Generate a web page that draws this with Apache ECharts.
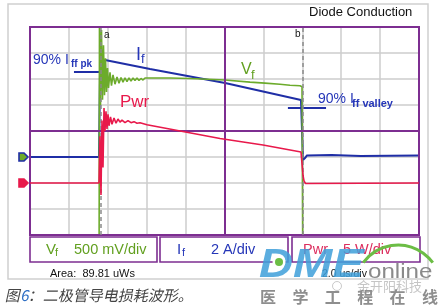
<!DOCTYPE html>
<html><head><meta charset="utf-8">
<script src="https://cdn.jsdelivr.net/npm/echarts@6/dist/echarts.min.js"></script>
<style>html,body{margin:0;padding:0;background:#fff}#c{width:438px;height:306px}</style>
</head><body><div id="c"></div>
<script>
// ---- data (time in microseconds, 2 us/div) ----
const ifTime = [0, 3.548, 3.6, 3.65, 3.856, 6.17, 10.03, 13.933, 13.985, 14.036, 14.139, 14.24, 15.5, 17.0, 20.0];
const ifAmps = [0, 0, 6.54, 6.6, 7.46, 6.77, 5.69, 4.38, 4.23, -0.23, -0.08, 0.12, 0.15, 0.08, 0.12];

const vfTime = [0, 3.548, 3.573, 3.625, 3.676, 3.728, 3.779, 3.830, 3.882, 3.933, 3.985, 4.036, 4.113, 4.190, 4.267, 4.370, 4.473, 4.576, 4.679, 4.781, 4.884, 4.987, 5.090, 5.193, 5.296, 5.398, 5.501, 5.604, 5.707, 5.810, 5.913, 6.015, 6.170, 7.198, 8.226, 10.026, 11.311, 12.082, 12.853, 13.368, 13.882, 13.985, 14.036, 20];
const vfVolts = [-3, -3, 3.0, 1.0, 2.44, 1.10, 2.15, 1.19, 1.90, 1.25, 1.71, 1.33, 1.63, 1.37, 1.58, 1.40, 1.54, 1.42, 1.53, 1.44, 1.52, 1.45, 1.52, 1.46, 1.52, 1.47, 1.52, 1.47, 1.51, 1.48, 1.52, 1.49, 1.52, 1.52, 1.51, 1.48, 1.44, 1.42, 1.40, 1.38, 1.37, 1.35, -3, -3];

const pwrTime = [0, 3.548, 3.599, 3.650, 3.702, 3.753, 3.805, 3.856, 3.907, 3.959, 4.010, 4.062, 4.139, 4.216, 4.319, 4.422, 4.524, 4.627, 4.730, 4.884, 5.039, 5.193, 5.347, 5.501, 5.656, 6.015, 9.769, 11.979, 13.933, 13.985, 14.036, 14.087, 14.165, 20];
const pwrWatts = [0, 0, 9, -2.3, 12, 3, 14.4, 10, 13.8, 10.4, 13.2, 11, 12.7, 11.3, 12.5, 11.5, 12.3, 11.7, 12.1, 11.6, 12.0, 11.6, 11.8, 11.5, 11.6, 11.2, 8.56, 7.3, 5.96, 5.77, 1.5, 0.4, -0.1, 0];

const pkMarkTime = [2.26, 3.6];
const pkMarkAmps = [6.54, 6.54];
const valleyMarkTime = [13.26, 15.22];
const valleyMarkAmps = [3.77, 3.77];

const cursorTimes = [3.65, 14.04];
const cursorNames = ['a', 'b'];

const scaleLabels = ['500 mV/div', '2 A/div', '5 W/div'];
const timeBaseLabel = '2.0 us/div';
const areaLabel = 'Area:  89.81 uWs';
const titleText = 'Diode Conduction';
const captionParts = ['图', '6', '：二极管导电损耗波形。'];
const watermarkChars = ['医', '学', '工', '程', '在', '线'];

// ---- drawing ----
const F = '"Liberation Sans", Arial, sans-serif';
const CJK = '"Noto Sans CJK SC", sans-serif';
const BLUE = '#1f2ea6', BLUE_T = '#2536b8', GREEN = '#6cab2b', GREEN_T = '#62a020', RED = '#e8194b', PURPLE = '#7d2e91', GRIDC = '#cdcdcd';
const zip = (a, b) => a.map((v, i) => [v, b[i]]);

const chart = echarts.init(document.getElementById('c'));

function txt(x, y, text, color, size, opts) {
  opts = opts || {};
  const el = {
    type: 'text', x: x, y: y, z: opts.z || 50,
    style: {
      text: text, fill: color, fontSize: size, fontFamily: opts.family || F,
      fontWeight: opts.weight || 'normal', fontStyle: opts.style || 'normal',
      verticalAlign: 'middle', align: opts.align || 'left', opacity: opts.opacity == null ? 1 : opts.opacity
    }
  };
  if (opts.scaleX) el.scaleX = opts.scaleX;
  return el;
}

const lineCommon = { type: 'line', symbol: 'none', showSymbol: false, smooth: false, silent: true, animation: false };

const option = {
  animation: false,
  backgroundColor: '#ffffff',
  grid: { left: 30, top: 27, width: 389, height: 208, show: true, borderColor: PURPLE, borderWidth: 2, backgroundColor: 'transparent', outerBoundsMode: 'none', containLabel: false },
  xAxis: { type: 'value', min: 0, max: 20, interval: 2, axisLine: { show: false }, axisTick: { show: false }, axisLabel: { show: false }, splitLine: { show: true, lineStyle: { color: GRIDC, width: 1.5 } } },
  yAxis: [
    { type: 'value', min: -4, max: 4, interval: 1, axisLine: { show: false }, axisTick: { show: false }, axisLabel: { show: false }, splitLine: { show: true, lineStyle: { color: GRIDC, width: 1.5 } } },
    { type: 'value', min: -6, max: 10, interval: 2, show: false },
    { type: 'value', min: -1.5, max: 2.5, interval: 0.5, show: false },
    { type: 'value', min: -10, max: 30, interval: 5, show: false }
  ],
  series: [
    Object.assign({}, lineCommon, { name: 'frame', yAxisIndex: 0, data: [], z: 1,
      markLine: { silent: true, symbol: 'none', animation: false, label: { show: false }, lineStyle: { color: PURPLE, width: 2, type: 'solid' },
        data: [{ xAxis: 0 }, { xAxis: 10 }, { xAxis: 20 }, { yAxis: -4 }, { yAxis: 0 }, { yAxis: 4 }] } }),
    Object.assign({}, lineCommon, { name: 'cursors', yAxisIndex: 0, data: [], z: 2,
      markLine: { silent: true, symbol: 'none', animation: false, label: { show: false }, lineStyle: { color: '#8a8a8a', width: 1.5, type: [4, 3] },
        data: cursorTimes.map(t => ({ xAxis: t })) } }),
    Object.assign({}, lineCommon, { name: 'If', yAxisIndex: 1, z: 3, data: zip(ifTime, ifAmps), lineStyle: { color: BLUE, width: 2 } }),
    Object.assign({}, lineCommon, { name: 'pk', yAxisIndex: 1, z: 3, data: zip(pkMarkTime, pkMarkAmps), lineStyle: { color: BLUE, width: 2 } }),
    Object.assign({}, lineCommon, { name: 'valley', yAxisIndex: 1, z: 3, data: zip(valleyMarkTime, valleyMarkAmps), lineStyle: { color: BLUE, width: 2 } }),
    Object.assign({}, lineCommon, { name: 'Vf', yAxisIndex: 2, z: 4, data: zip(vfTime, vfVolts), lineStyle: { color: GREEN, width: 1.6 } }),
    Object.assign({}, lineCommon, { name: 'Pwr', yAxisIndex: 3, z: 5, data: zip(pwrTime, pwrWatts), lineStyle: { color: RED, width: 1.6 } })
  ]
};
chart.setOption(option);

// positions derived from the axes
const gA = chart.convertToPixel({ xAxisIndex: 0, yAxisIndex: 1 }, [0, 0]);
const gP = chart.convertToPixel({ xAxisIndex: 0, yAxisIndex: 3 }, [0, 0]);
const cA = chart.convertToPixel({ xAxisIndex: 0, yAxisIndex: 0 }, [cursorTimes[0], 4]);
const cB = chart.convertToPixel({ xAxisIndex: 0, yAxisIndex: 0 }, [cursorTimes[1], 4]);

function marker(y, fill, stroke) {
  return { type: 'polygon', z: 60, shape: { points: [[19, y - 4], [24, y - 4], [28, y], [24, y + 4], [19, y + 4]] }, style: { fill: fill, stroke: stroke, lineWidth: 1.6 } };
}

const els = [
  // outer frame
  { type: 'rect', z: 0, shape: { x: 8, y: 4, width: 420, height: 275 }, style: { fill: 'none', stroke: '#cfcfcf', lineWidth: 1.5 } },
  txt(309, 12, titleText, '#111', 13),
  txt(cA[0] + 3, 35, cursorNames[0], '#111', 10),
  txt(cB[0] - 8, 34, cursorNames[1], '#111', 10),
  // annotations
  txt(33, 60, '90% I', BLUE_T, 14),
  txt(71, 64.5, 'ff pk', BLUE_T, 10, { weight: 'bold' }),
  txt(136, 55, 'I', BLUE_T, 18),
  txt(141, 59, 'f', BLUE_T, 13),
  txt(241, 70, 'V', GREEN_T, 16),
  txt(251, 75, 'f', GREEN_T, 13),
  txt(120, 102, 'Pwr', RED, 17),
  txt(318, 99.5, '90% I', BLUE_T, 14),
  txt(352, 103.5, 'ff valley', BLUE_T, 11, { weight: 'bold' }),
  // ground markers
  marker(gA[1], GREEN, BLUE),
  marker(gP[1], RED, RED),
  // bottom info boxes
  { type: 'rect', z: 10, shape: { x: 30, y: 237, width: 127, height: 25 }, style: { fill: '#fff', stroke: PURPLE, lineWidth: 1.6 } },
  { type: 'rect', z: 10, shape: { x: 160, y: 237, width: 128, height: 25 }, style: { fill: '#fff', stroke: PURPLE, lineWidth: 1.6 } },
  { type: 'rect', z: 10, shape: { x: 292, y: 237, width: 128, height: 25 }, style: { fill: '#fff', stroke: PURPLE, lineWidth: 1.6 } },
  txt(46, 249.5, 'V', GREEN_T, 15),
  txt(55, 253, 'f', GREEN_T, 11),
  txt(74, 249.5, scaleLabels[0], GREEN_T, 14.5),
  txt(177, 249.5, 'I', BLUE_T, 15),
  txt(182, 253, 'f', BLUE_T, 11),
  txt(211, 249.5, scaleLabels[1], BLUE_T, 14.5),
  txt(303, 249.5, 'Pwr', '#dc2d5e', 14.5),
  txt(343, 249.5, scaleLabels[2], '#dc2d5e', 14.5),
  txt(50, 274, areaLabel, '#111', 11),
  txt(322, 274, timeBaseLabel, '#111', 10.5),
  // caption
  txt(6, 295, captionParts[0], '#444', 15, { family: CJK }),
  txt(21.5, 295, captionParts[1], '#2f6fc4', 15, { family: CJK }),
  txt(29, 295, captionParts[2], '#444', 15, { family: CJK }),
  // watermark
  txt(259, 266, 'DME', 'rgba(64,160,218,0.86)', 40, { weight: 'bold', style: 'italic', z: 90, scaleX: 1.18 }),
  { type: 'circle', z: 91, shape: { cx: 279, cy: 262, r: 6.5 }, style: { fill: '#fff' } },
  { type: 'circle', z: 92, shape: { cx: 279, cy: 262, r: 4 }, style: { fill: '#6cbd45' } },
  { type: 'arc', z: 89, shape: { cx: 398, cy: 288, r: 43, startAngle: -Math.PI * 0.8, endAngle: -Math.PI * 0.2, clockwise: true }, style: { stroke: '#6cbd45', lineWidth: 3, fill: 'none' } },
  txt(368, 272, 'online', '#8a8a8a', 21, { z: 90, scaleX: 1.15 }),
  { type: 'circle', z: 88, shape: { cx: 337, cy: 286, r: 4.5 }, style: { fill: 'none', stroke: 'rgba(150,150,150,0.5)', lineWidth: 1 } },
  txt(357, 286, '金开阳科技', 'rgba(150,150,150,0.55)', 13, { family: CJK, z: 88 })
];
watermarkChars.forEach((ch, i) => els.push(txt(260 + i * 32.4, 296.5, ch, '#8e8e8e', 16, { family: CJK, weight: 'bold', z: 90 })));

chart.setOption({ graphic: { elements: els } });

// slant the caption (the CJK font has no italic face)
const zr = chart.getZr();
function slant(el) {
  if (el && el.type === 'text' && el.style && captionParts.indexOf(el.style.text) >= 0) {
    el.skewX = -0.22;
    el.markRedraw();
  }
}
zr.storage.getRoots().forEach(function (r) {
  slant(r);
  if (r.traverse) r.traverse(slant);
});
zr.refreshImmediately();
</script></body></html>
